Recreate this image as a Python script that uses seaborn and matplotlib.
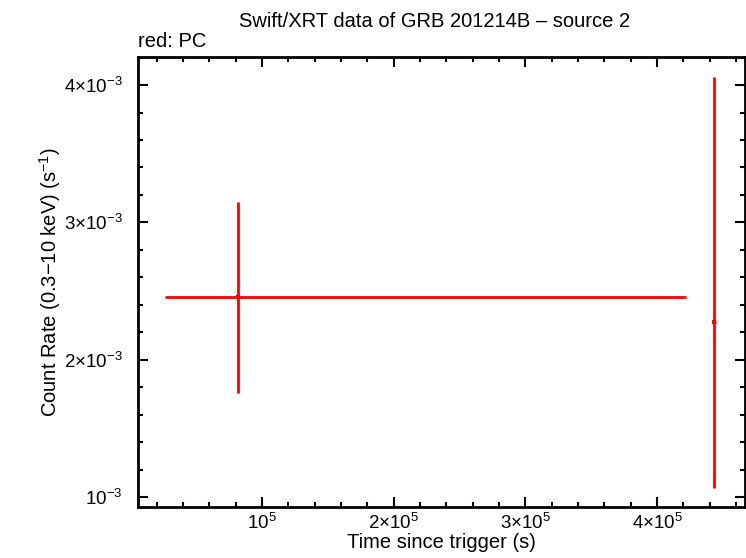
import numpy as np
import pandas as pd
import matplotlib
matplotlib.use("Agg")
import matplotlib.pyplot as plt
from matplotlib.ticker import MultipleLocator, FixedLocator, FixedFormatter
import seaborn as sns

# ── data ─────────────────────────────────────────────────────────────────────
time_s   = [81770, 443300]
t_lo     = [55440, 1500]
t_hi     = [340230, 1500]
rate     = [2.456e-3, 2.272e-3]
rate_lo  = [0.699e-3, 1.206e-3]
rate_hi  = [0.692e-3, 1.784e-3]

x_ticks  = [1e5, 2e5, 3e5, 4e5]
x_labels = [r"$10^5$", r"$2{\times}10^5$", r"$3{\times}10^5$", r"$4{\times}10^5$"]
y_ticks  = [1e-3, 2e-3, 3e-3, 4e-3]
y_labels = [r"$10^{-3}$", r"$2{\times}10^{-3}$", r"$3{\times}10^{-3}$", r"$4{\times}10^{-3}$"]

df = pd.DataFrame({"time": time_s, "rate": rate})

sns.set_style("ticks")
plt.rcParams["font.family"] = ["Liberation Sans", "DejaVu Sans"]
plt.rcParams["mathtext.fontset"] = "custom"
plt.rcParams["mathtext.rm"] = "Liberation Sans"
plt.rcParams["mathtext.it"] = "Liberation Sans"
plt.rcParams["mathtext.default"] = "regular"
plt.rcParams["text.color"] = "black"
plt.rcParams["axes.labelcolor"] = "black"

fig = plt.figure(figsize=(7.46, 5.58), dpi=100)
ax = fig.add_axes([0.185, 0.0914, 0.8137, 0.8064])

ax.errorbar(df["time"], df["rate"],
            xerr=[t_lo, t_hi], yerr=[rate_lo, rate_hi],
            fmt="none", ecolor="red", elinewidth=2, capsize=0)
sns.scatterplot(data=df, x="time", y="rate", ax=ax, color="red",
                marker="s", s=6, linewidth=0, legend=False)

ax.set_xlim(5830, 466800)
ax.set_ylim(0.927e-3, 4.204e-3)

ax.xaxis.set_major_locator(FixedLocator(x_ticks))
ax.xaxis.set_major_formatter(FixedFormatter(x_labels))
ax.xaxis.set_minor_locator(MultipleLocator(2e4))
ax.yaxis.set_major_locator(FixedLocator(y_ticks))
ax.yaxis.set_major_formatter(FixedFormatter(y_labels))
ax.yaxis.set_minor_locator(MultipleLocator(2e-4))

ax.tick_params(which="both", direction="in", top=True, right=True,
               width=1.5, labelsize=13.5, colors="black")
ax.tick_params(which="major", length=7)
ax.tick_params(which="minor", length=3.5)
ax.tick_params(axis="x", which="major", pad=4)
ax.tick_params(axis="y", which="major", pad=11)
for sp in ax.spines.values():
    sp.set_linewidth(2)
    sp.set_color("black")

ax.set_xlabel("Time since trigger (s)", fontsize=14.5, labelpad=0)
ax.set_ylabel(r"Count Rate (0.3$-$10 keV) (s$^{-1}$)", fontsize=14.5, labelpad=1)
fig.text(0.583, 0.962, "Swift/XRT data of GRB 201214B \u2013 source 2",
         ha="center", va="center", fontsize=14.5)
fig.text(0.185, 0.925, "red: PC", ha="left", va="center", fontsize=14.5)

fig.savefig("out.png", dpi=100)
